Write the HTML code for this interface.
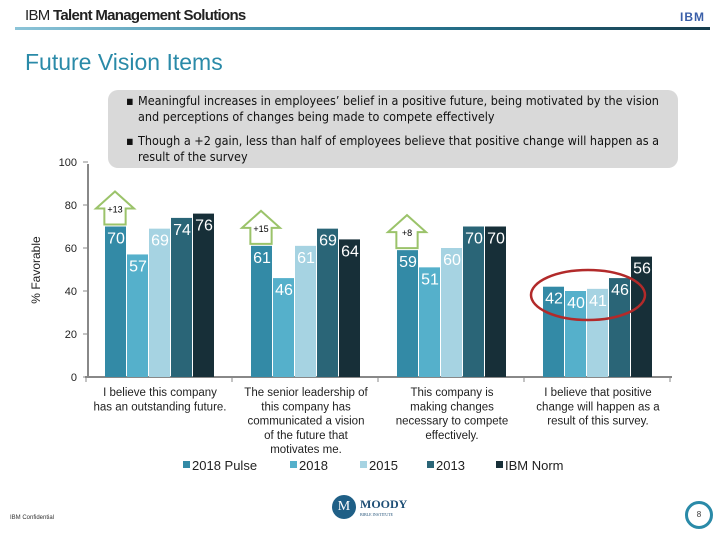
<!DOCTYPE html>
<html><head><meta charset="utf-8"><style>
body{margin:0;width:720px;height:540px;background:#fff;overflow:hidden;position:relative;font-family:"Liberation Sans",sans-serif}
.abs{position:absolute}
</style></head><body>
<div class="abs" style="left:25px;top:7px;font-size:15px;font-weight:bold;color:#222;letter-spacing:-0.7px"><span style="font-weight:normal">IBM</span> Talent Management Solutions</div>
<div class="abs" style="left:680px;top:10px;font-size:12px;font-weight:bold;color:#3a5fa8;letter-spacing:1px">IBM</div>
<div class="abs" style="left:15px;top:27px;width:695px;height:3px;background:linear-gradient(90deg,#8cc4d8,#2a7f9c 50%,#163c4c)"></div>
<div class="abs" style="left:25px;top:49px;font-size:23px;color:#2a8aa8">Future Vision Items</div>
<div class="abs" style="left:108px;top:90px;width:570px;height:78px;background:#d9d9d9;border-radius:10px;font-family:'DejaVu Sans Condensed','Liberation Sans Narrow',sans-serif;font-size:12.5px;line-height:16px;color:#111">
<div style="position:absolute;left:6px;top:3px;width:550px;padding-left:12px">▪<span style="position:absolute;left:24px;top:0">Meaningful increases in employees’ belief in a positive future, being motivated by the vision and perceptions of changes being made to compete effectively</span></div>
<div style="position:absolute;left:6px;top:43px;width:550px;padding-left:12px">▪<span style="position:absolute;left:24px;top:0">Though a +2 gain, less than half of employees believe that positive change will happen as a result of the survey</span></div>
</div>
<svg class="abs" style="left:0;top:0" width="720" height="540" id="chart"></svg>
<div class="abs" style="left:10px;top:515px;font-size:6px;color:#333">IBM Confidential</div>
<div class="abs" style="left:332px;top:495px;width:24px;height:24px;border-radius:50%;background:#1f5f86;color:#fff;font-size:14px;text-align:center;line-height:24px;font-family:'Liberation Serif',serif">M</div>
<div class="abs" style="left:360px;top:497px;font-size:12px;color:#1f4f76;font-family:'Liberation Serif',serif;font-weight:bold">MOODY<div style="font-size:4px;font-weight:normal">BIBLE INSTITUTE</div></div>
<div class="abs" style="left:685px;top:501px;width:22px;height:22px;border:3px solid #2a8aa8;border-radius:50%;font-size:8px;text-align:center;line-height:22px;color:#333">8</div>
<script>
const categories=[["I believe this company","has an outstanding future."],["The senior leadership of","this company has","communicated a vision","of the future that","motivates me."],["This company is","making changes","necessary to compete","effectively."],["I believe that positive","change will happen as a","result of this survey."]];
const seriesNames=["2018 Pulse","2018","2015","2013","IBM Norm"];
const s2018Pulse=[70,61,59,42];
const s2018=[57,46,51,40];
const s2015=[69,61,60,41];
const s2013=[74,69,70,46];
const sNorm=[76,64,70,56];
const gains=["+13","+15","+8",null];
const yTicks=[0,20,40,60,80,100];
const colors=["#338aa6","#55b0cb","#a6d3e2","#2a6577","#172f38"];
const series=[s2018Pulse,s2018,s2015,s2013,sNorm];
const svg=document.getElementById('chart');const NS='http://www.w3.org/2000/svg';
function el(t,a,p){const e=document.createElementNS(NS,t);for(const k in a)e.setAttribute(k,a[k]);(p||svg).appendChild(e);return e;}
const y0=377,pxu=2.15;const y=v=>y0-v*pxu;
const x0=88,gw=146,bw=22;const gx=i=>x0+17+i*gw;
let a=el('line',{x1:88,y1:y(100)+2,x2:88,y2:y0,stroke:'#888','stroke-width':2});

a=el('line',{x1:85,y1:y0,x2:672,y2:y0,stroke:'#888','stroke-width':2});

yTicks.forEach(t=>{el('line',{x1:83,y1:y(t),x2:88,y2:y(t),stroke:'#888'});
const tx=el('text',{x:77,y:y(t)+4,'text-anchor':'end','font-size':11,fill:'#222'});tx.textContent=t;
});
for(let i=0;i<=4;i++){const px=x0-2+i*gw;el('line',{x1:px,y1:y0,x2:px,y2:y0+5,stroke:'#888'});}
const yt=el('text',{x:0,y:0,transform:'translate(40,270) rotate(-90)','text-anchor':'middle','font-size':12,fill:'#222'});yt.textContent='% Favorable';

categories.forEach((c,i)=>{series.forEach((s,j)=>{const v=s[i];const bx=gx(i)+j*bw;
const r=el('rect',{x:bx,y:y(v),width:bw-1,height:y0-y(v),fill:colors[j]});

const t=el('text',{x:bx+bw/2,y:y(v)+17,'text-anchor':'middle','font-size':16,fill:'#fff'});t.textContent=v;
});
const cx=gx(i)+55;c.forEach((l,k)=>{const t=el('text',{x:cx,y:396+k*14.3,'text-anchor':'middle','font-size':11.5,fill:'#222'});t.textContent=l;
});
if(gains[i]){const ax=gx(i)-9,top=y(s2018Pulse[i])-35;const w=38;
const p=el('path',{d:`M${ax} ${top+17} L${ax+w/2} ${top} L${ax+w} ${top+17} L${ax+w*0.78} ${top+17} L${ax+w*0.78} ${top+33} L${ax+w*0.22} ${top+33} L${ax+w*0.22} ${top+17} Z`,fill:'#fff',stroke:'#9bc36a','stroke-width':2});

const t=el('text',{x:ax+w/2,y:top+21,'text-anchor':'middle','font-size':9,fill:'#000'});t.textContent=gains[i];
}});
const e=el('ellipse',{cx:588,cy:295,rx:57,ry:25,fill:'none',stroke:'#b22a2a','stroke-width':2.5});

const lx=[183,290,360,427,496];
seriesNames.forEach((n,j)=>{const r=el('rect',{x:lx[j],y:461,width:7,height:7,fill:colors[j]});

const t=el('text',{x:lx[j]+9,y:470,'font-size':13,fill:'#222'});t.textContent=n;
});
</script>
</body></html>
